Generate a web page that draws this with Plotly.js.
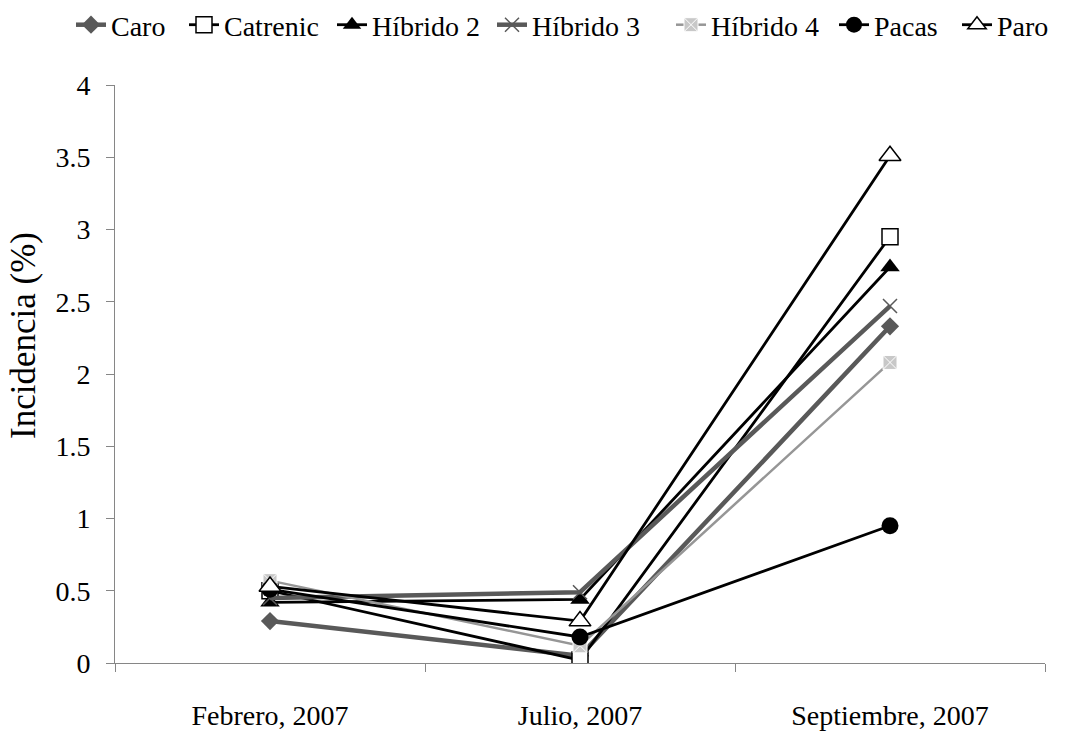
<!DOCTYPE html>
<html>
<head>
<meta charset="utf-8">
<script src="https://cdn.plot.ly/plotly-3.0.1.min.js"></script>
<style>html,body{margin:0;padding:0;background:#fff;}#chart{width:1070px;height:733px;}</style>
</head>
<body>
<div id="chart"></div>
<script>
const categories = ["Febrero, 2007", "Julio, 2007", "Septiembre, 2007"];
const caro = [0.29, 0.05, 2.33];
const catrenic = [0.50, 0.02, 2.95];
const hibrido2 = [0.42, 0.44, 2.74];
const hibrido3 = [0.45, 0.49, 2.47];
const hibrido4 = [0.57, 0.12, 2.08];
const pacas = [0.51, 0.18, 0.95];
const paro = [0.53, 0.29, 3.51];
const yTicks = [0, 0.5, 1, 1.5, 2, 2.5, 3, 3.5, 4];
const yTickText = ["0", "0.5", "1", "1.5", "2", "2.5", "3", "3.5", "4"];

const font = "Liberation Serif";

function tr(name, y, lineColor, lineWidth, symbol, mColor, mSize, mLineColor, mLineWidth, leg) {
  return {
    type: "scatter", mode: "lines+markers", name: name, legend: leg,
    x: categories, y: y,
    line: {color: lineColor, width: lineWidth},
    marker: {symbol: symbol, color: mColor, size: mSize,
             line: {color: mLineColor, width: mLineWidth}}
  };
}

const data = [
  tr("Caro", caro, "#595959", 4.5, "diamond", "#595959", 14, "#595959", 0, "legend"),
  tr("Catrenic", catrenic, "#000000", 2.8, "square", "#ffffff", 16, "#000000", 1.5, "legend2"),
  tr("Híbrido 2", hibrido2, "#000000", 2.8, "triangle-up", "#000000", 17, "#000000", 0, "legend3"),
  tr("Híbrido 3", hibrido3, "#595959", 4.5, "x-thin", "#595959", 14, "#595959", 1.5, "legend4"),
  tr("Híbrido 4", hibrido4, "#969696", 2.5, "square-x", "#c8c8c8", 14, "#ffffff", 1, "legend5"),
  tr("Pacas", pacas, "#000000", 2.8, "circle", "#000000", 17, "#000000", 0, "legend6"),
  tr("Paro", paro, "#000000", 2.8, "triangle-up", "#ffffff", 19, "#000000", 1.5, "legend7")
];

const plotL = 115, plotW = 930;
const legendStarts = [77, 190, 338, 498, 677, 840, 963];

const layout = {
  width: 1070, height: 733,
  margin: {l: 115, r: 25, t: 85, b: 70, autoexpand: false},
  paper_bgcolor: "#ffffff", plot_bgcolor: "#ffffff",
  font: {family: font, size: 26, color: "#000000"},
  showlegend: true,
  xaxis: {
    type: "category", showgrid: false, zeroline: false,
    showline: true, linecolor: "#868686", linewidth: 1,
    ticks: "outside", tickson: "boundaries", ticklen: 8, tickcolor: "#868686",
    tickfont: {family: font, size: 28}, range: [-0.5, 2.5], ticklabelstandoff: 27
  },
  yaxis: {
    range: [0, 4], tickvals: yTicks, ticktext: yTickText,
    showgrid: false, zeroline: false,
    showline: true, linecolor: "#868686", linewidth: 1,
    ticks: "outside", ticklen: 8, tickcolor: "#868686",
    tickfont: {family: font, size: 28}, ticklabelstandoff: 10
  },
  annotations: [{
    text: "Incidencia (%)", textangle: -90, showarrow: false,
    xref: "paper", yref: "paper",
    x: (23 - plotL) / plotW, y: (663 - 336) / 578,
    xanchor: "center", yanchor: "middle",
    font: {family: font, size: 35, color: "#000000"}
  }]
};

const legKeys = ["legend", "legend2", "legend3", "legend4", "legend5", "legend6", "legend7"];
legKeys.forEach(function (k, i) {
  layout[k] = {
    orientation: "h", x: (legendStarts[i] - plotL - 6) / plotW, xanchor: "left",
    y: (663 - 25) / 578, yanchor: "middle",
    font: {family: font, size: 28, color: "#000000"},
    bgcolor: "rgba(0,0,0,0)", borderwidth: 0
  };
});

Plotly.newPlot("chart", data, layout, {staticPlot: true, displayModeBar: false});
</script>
</body>
</html>
